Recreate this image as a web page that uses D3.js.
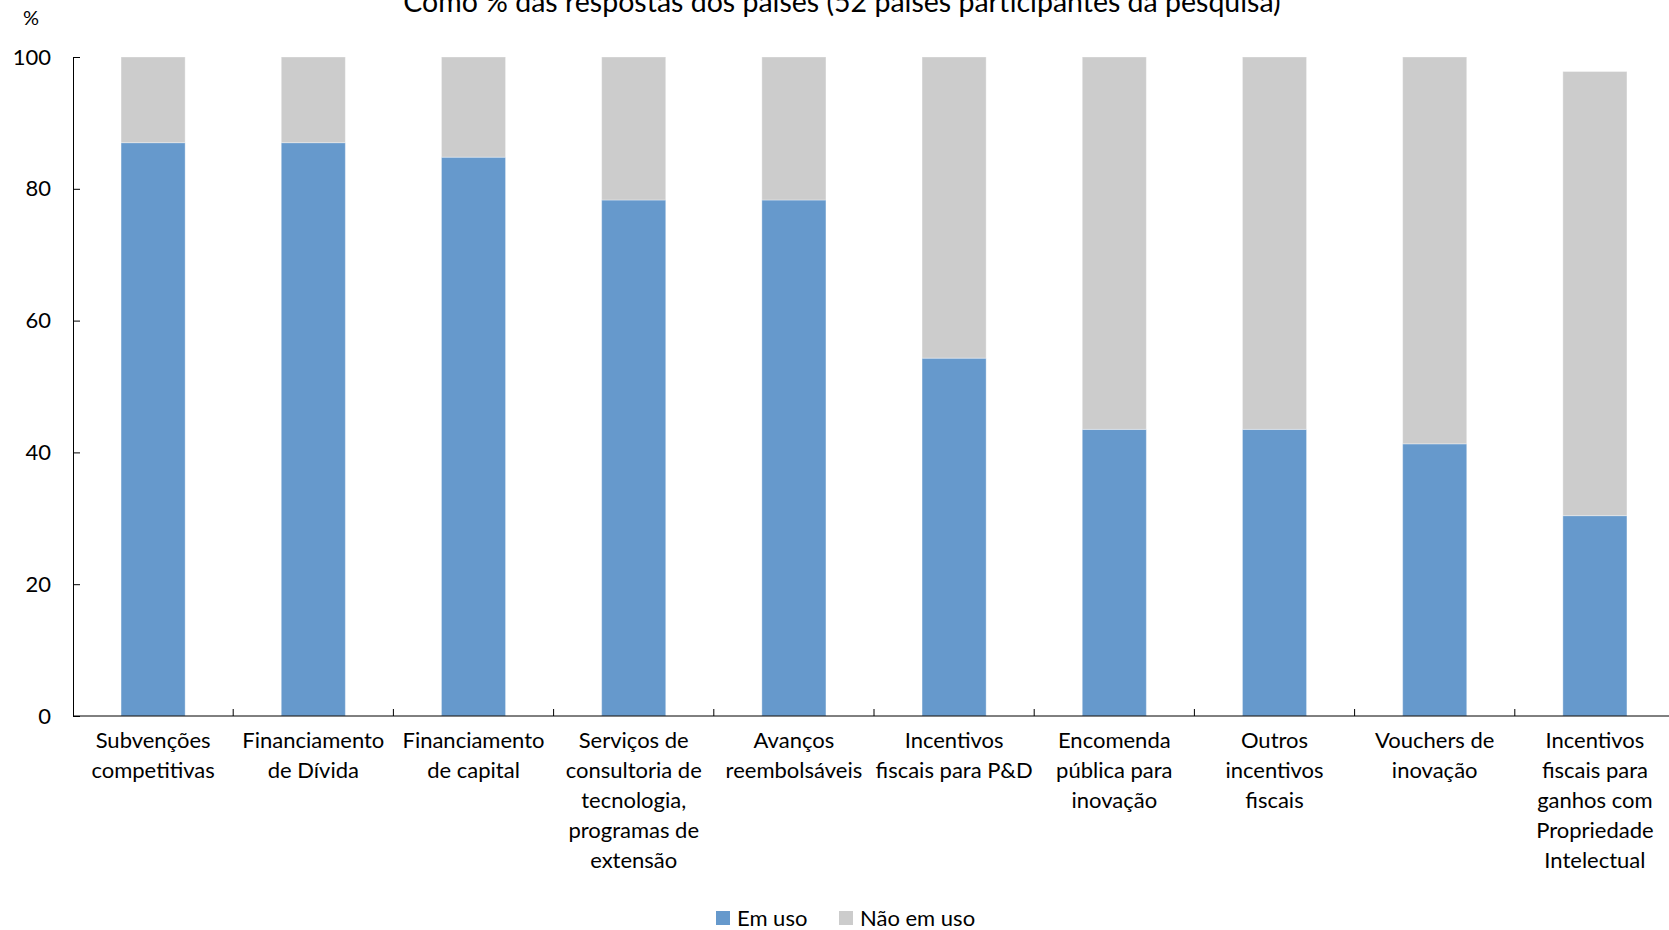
<!DOCTYPE html>
<html>
<head>
<meta charset="utf-8">
<script src="https://cdn.jsdelivr.net/npm/d3@7"></script>
<style>
  body { margin: 0; background: #fff; }
  svg text { font-family: Lato, "Open Sans", sans-serif; fill: #000; }
</style>
</head>
<body>
<div id="chart"></div>
<script>
var svgWidth = 1669;
var svgHeight = 930;

// categories (line breaks marked with |)
var categories = [
  "Subvenções|competitivas",
  "Financiamento|de Dívida",
  "Financiamento|de capital",
  "Serviços de|consultoria de|tecnologia,|programas de|extensão",
  "Avanços|reembolsáveis",
  "Incentivos|fiscais para P&D",
  "Encomenda|pública para|inovação",
  "Outros|incentivos|fiscais",
  "Vouchers de|inovação",
  "Incentivos|fiscais para|ganhos com|Propriedade|Intelectual"
];
var emUso = [87.0, 87.0, 84.8, 78.3, 78.3, 54.3, 43.5, 43.5, 41.3, 30.4];
var naoEmUso = [13.0, 13.0, 15.2, 21.7, 21.7, 45.7, 56.5, 56.5, 58.7, 67.4];
var seriesNames = ["Em uso", "Não em uso"];
var yTicks = [0, 20, 40, 60, 80, 100];

var colors = ["#6699cc", "#cccccc"];

var margin = { top: 57, left: 73, bottom: 214 };
var plotHeight = svgHeight - margin.top - margin.bottom;
var plotWidth = 1602;

var svg = d3.select("#chart")
  .append("svg")
  .attr("width", svgWidth)
  .attr("height", svgHeight);

var chartGroup = svg.append("g")
  .attr("transform", `translate(${margin.left}, ${margin.top})`);

var x = d3.scaleBand()
  .domain(categories)
  .range([0, plotWidth])
  .paddingInner(0.6)
  .paddingOuter(0.3);

var y = d3.scaleLinear()
  .domain([0, 100])
  .range([plotHeight, 0]);

// stacked data
var rows = categories.map(function(c, i) {
  return { cat: c, "Em uso": emUso[i], "Não em uso": naoEmUso[i] };
});
var stacked = d3.stack().keys(seriesNames)(rows);

chartGroup.selectAll("g.layer")
  .data(stacked)
  .enter()
  .append("g")
  .attr("class", "layer")
  .attr("fill", (d, i) => colors[i])
  .selectAll("rect")
  .data(d => d)
  .enter()
  .append("rect")
  .attr("x", d => x(d.data.cat))
  .attr("y", d => y(d[1]))
  .attr("width", x.bandwidth())
  .attr("height", d => y(d[0]) - y(d[1]))
  .attr("stroke", "#ffffff")
  .attr("stroke-opacity", 0.35)
  .attr("stroke-width", 1);

// y axis
var leftAxis = d3.axisLeft(y)
  .tickValues(yTicks)
  .tickSizeInner(-7)
  .tickSizeOuter(0)
  .tickPadding(22);

var yAxisG = chartGroup.append("g").call(leftAxis);
yAxisG.selectAll("text").style("font-size", "22px");
yAxisG.selectAll("line, path").attr("stroke", "#000");

// x axis line
chartGroup.append("line")
  .attr("x1", 0)
  .attr("x2", plotWidth)
  .attr("y1", plotHeight)
  .attr("y2", plotHeight)
  .attr("stroke", "#000");

// boundary ticks between categories
var step = x.step();
chartGroup.selectAll("line.xtick")
  .data(categories.slice(0, -1))
  .enter()
  .append("line")
  .attr("class", "xtick")
  .attr("x1", d => x(d) + x.bandwidth() + (step - x.bandwidth()) / 2)
  .attr("x2", d => x(d) + x.bandwidth() + (step - x.bandwidth()) / 2)
  .attr("y1", plotHeight)
  .attr("y2", plotHeight - 7)
  .attr("stroke", "#000");

// category labels
var labels = chartGroup.selectAll("text.xlabel")
  .data(categories)
  .enter()
  .append("text")
  .attr("class", "xlabel")
  .attr("text-anchor", "middle")
  .attr("transform", d => `translate(${x(d) + x.bandwidth() / 2}, ${plotHeight + 32})`)
  .style("font-size", "22px");

labels.selectAll("tspan")
  .data(d => d.split("|"))
  .enter()
  .append("tspan")
  .attr("x", 0)
  .attr("y", (d, i) => i * 30)
  .text(d => d);

// unit label
svg.append("text")
  .attr("x", 23)
  .attr("y", 25)
  .style("font-size", "20px")
  .text("%");

// title (cut at the top as in the source)
svg.append("text")
  .attr("x", 842)
  .attr("y", 12)
  .attr("text-anchor", "middle")
  .style("font-size", "28.5px")
  .text("Como % das respostas dos países (52 países participantes da pesquisa)");

// legend
var legend = svg.append("g")
  .attr("transform", "translate(716, 918)");
var legendX = [0, 123];
seriesNames.forEach(function(name, i) {
  var item = legend.append("g").attr("transform", `translate(${legendX[i]}, 0)`);
  item.append("rect")
    .attr("x", 0)
    .attr("y", -7)
    .attr("width", 14)
    .attr("height", 14)
    .attr("fill", colors[i]);
  item.append("text")
    .attr("x", 21)
    .attr("y", 0)
    .attr("dy", "0.35em")
    .style("font-size", "22px")
    .text(name);
});
</script>
</body>
</html>
